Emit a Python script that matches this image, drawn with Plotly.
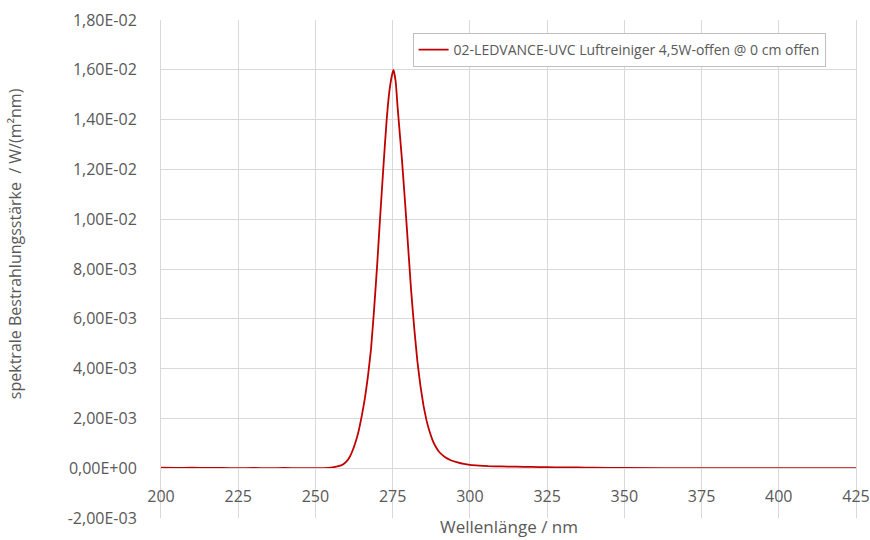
import plotly.graph_objects as go

# Spectral irradiance of the UV-C air purifier (wavelength in nm, W/(m²nm))
wavelength = [200, 205, 210, 215, 220, 225, 230, 235, 240, 245, 250, 254, 256, 258, 259,
              260, 261, 262, 263, 264, 265, 266, 267, 268, 269, 270, 271, 272,
              273, 274, 275, 275.3, 276, 276.6, 277, 278, 279, 280, 281, 282, 283, 284,
              285, 286, 287, 288, 289, 290, 292, 294, 296, 298, 300, 303, 306, 310,
              315, 320, 325, 330, 335, 340, 350, 375, 400, 425]
irradiance = [0.00002, 0.00001, 0.00002, 0.00001, 0.00001, 0.0, 0.00001, 0.0, 0.00001, 0.0,
              0.0, 0.00001, 0.00004, 0.0001, 0.00016,
              0.00026, 0.00043, 0.0007, 0.00105, 0.0015, 0.0021, 0.0028, 0.0037, 0.0048,
              0.0064, 0.0082, 0.0102, 0.0121,
              0.0139, 0.0152, 0.0159, 0.0160, 0.0155, 0.0145, 0.0139, 0.0124, 0.0107,
              0.0089, 0.0071, 0.0056, 0.0043, 0.0033,
              0.0025, 0.0019, 0.00145, 0.0011, 0.00085, 0.00066, 0.00044, 0.00031, 0.00023,
              0.00017, 0.00013, 0.0001, 0.00008, 0.00007,
              0.00006, 0.00005, 0.00004, 0.00003, 0.00003, 0.00002, 0.00001, 0.0, 0.0, 0.0]

series_name = "02-LEDVANCE-UVC Luftreiniger 4,5W-offen @ 0 cm offen"

x_ticks = [200, 225, 250, 275, 300, 325, 350, 375, 400, 425]
y_ticks = [-0.002, 0.0, 0.002, 0.004, 0.006, 0.008, 0.010, 0.012, 0.014, 0.016, 0.018]
y_tick_text = ["-2,00E-03", "0,00E+00", "2,00E-03", "4,00E-03", "6,00E-03", "8,00E-03",
               "1,00E-02", "1,20E-02", "1,40E-02", "1,60E-02", "1,80E-02"]

GRID = "#d9d9d9"
TEXT = "#595959"
FONT = "Open Sans"

fig = go.Figure()
fig.add_trace(go.Scatter(
    x=wavelength, y=irradiance, mode="lines", name=series_name,
    line=dict(color="#c00000", width=1.8, shape="spline", smoothing=0.3),
    showlegend=True,
))

fig.update_layout(
    width=870, height=540,
    margin=dict(l=161, r=14, t=20, b=22, autoexpand=False),
    paper_bgcolor="white", plot_bgcolor="white",
    font=dict(family=FONT, color=TEXT, size=16),
    showlegend=True,
    legend=dict(
        x=0.362, y=0.974, xanchor="left", yanchor="top",
        bgcolor="white", bordercolor="#bfbfbf", borderwidth=1,
        font=dict(family=FONT, size=14, color=TEXT),
        itemwidth=30,
    ),
    xaxis=dict(
        range=[200, 425], tickvals=x_ticks, showgrid=True, gridcolor=GRID, gridwidth=1,
        zeroline=False, showline=True, linecolor=GRID, mirror=True,
        anchor="free", position=0.1, ticks="", ticklabelstandoff=14, automargin=False,
        tickfont=dict(family=FONT, size=16, color=TEXT),
    ),
    yaxis=dict(
        range=[-0.002, 0.018], tickvals=y_ticks, ticktext=y_tick_text,
        showgrid=True, gridcolor=GRID, gridwidth=1,
        zeroline=True, zerolinecolor="#c8c8c8", zerolinewidth=1,
        showline=True, linecolor=GRID, mirror=True, automargin=False,
        ticks="", ticklabelstandoff=20,
        tickfont=dict(family=FONT, size=16, color=TEXT),
    ),
    annotations=[
        dict(text="spektrale Bestrahlungsstärke  / W/(m²nm)", textangle=-90,
             xref="paper", yref="paper", x=-0.21, y=0.55,
             xanchor="center", yanchor="middle", showarrow=False,
             font=dict(family=FONT, size=16, color=TEXT)),
        dict(text="Wellenlänge / nm",
             xref="paper", yref="paper", x=0.5, y=-0.018,
             xanchor="center", yanchor="middle", showarrow=False,
             font=dict(family=FONT, size=17, color=TEXT)),
    ],
)

fig.write_html("out.html")
